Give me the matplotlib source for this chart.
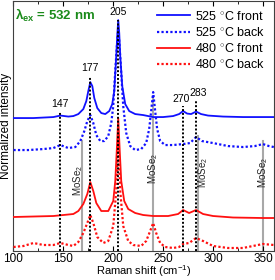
import numpy as np
import matplotlib
matplotlib.use("Agg")
import matplotlib.pyplot as plt

plt.rcParams['font.family'] = ['Liberation Sans', 'DejaVu Sans']
plt.rcParams['mathtext.fontset'] = 'custom'
plt.rcParams['mathtext.rm'] = 'Liberation Sans'
plt.rcParams['mathtext.it'] = 'Liberation Sans:italic'
plt.rcParams['mathtext.bf'] = 'Liberation Sans:bold'

# spectra (offset, normalized intensity, arbitrary units)
x_525_front = [100, 120, 140, 147, 155, 160, 165, 170, 173, 175, 177, 179, 181, 184, 188, 192, 196,
               199, 201, 203, 204, 205, 206, 207, 209, 212, 216, 222, 230, 240, 250, 260, 266,
               270, 274, 278, 283, 288, 295, 310, 330, 361]
y_525_front = [133, 133, 134, 135.5, 134.5, 135, 137, 142, 150, 160, 169, 165, 153, 143, 138, 137, 140,
               147, 160, 195, 215, 231, 218, 195, 165, 147, 140, 137, 136, 134, 134, 135, 137,
               140, 137.5, 137, 139.5, 137, 135.5, 134.5, 134, 134]

x_525_back = [100, 115, 130, 140, 147, 155, 162, 167, 171, 174, 177, 180, 183, 187, 191, 195, 198,
              200, 202, 204, 205, 206, 208, 210, 213, 217, 222, 228, 233, 236, 238, 240, 242,
              244, 247, 252, 260, 270, 277, 283, 289, 300, 315, 330, 342, 350, 356, 361]
y_525_back = [101, 101, 102, 103, 106, 103, 104, 110, 120, 130, 136, 128, 116, 110, 110, 115, 128,
              145, 180, 210, 221, 210, 178, 145, 118, 105, 101, 102, 108, 122, 140, 159, 140,
              122, 110, 106, 106, 107, 108, 114, 110, 108, 105, 104, 105, 107, 105, 104]

x_480_front = [100, 120, 140, 150, 160, 165, 170, 174, 177, 180, 183, 188, 195, 200, 202, 203.5,
               205, 206.5, 208, 211, 215, 222, 230, 240, 255, 265, 270, 276, 283, 290, 300, 320,
               350, 361]
y_480_front = [34, 34.5, 35, 36, 37, 40, 47, 57, 69, 60, 48, 40, 40, 50, 70, 100,
               133, 100, 70, 50, 42, 38, 36, 35, 35, 37, 41, 38, 41, 37, 35, 33.5,
               33, 33]

x_480_back = [100, 110, 120, 130, 140, 147, 155, 160, 165, 170, 174, 177, 180, 184, 190, 195, 200,
              203, 205, 207, 210, 215, 220, 228, 233, 237, 240, 243, 247, 252, 260, 266, 270,
              276, 283, 290, 300, 315, 330, 340, 350, 361]
y_480_back = [4, 5, 8, 6, 6, 8, 6, 5, 9, 18, 28, 36, 28, 14, 8, 10, 25,
              60, 110, 60, 25, 10, 6, 5, 10, 20, 28, 18, 8, 4, 3, 4, 7,
              8, 13, 10, 5, 3, 3, 5, 7, 6]

# assigned peaks: position, label x, label height, line top
peak_pos = [147, 177, 205, 270, 283]
peak_label_x = [147, 177, 205, 268, 285]
peak_label_y = [147, 183, 239, 152, 158]
peak_line_top = [139, 175, 231, 145, 150]

# MoSe2 reference lines
mose2_pos = [169, 240, 285, 350]
mose2_line_top = [110, 153, 115, 110]
mose2_text_x = [165, 239.5, 290, 350]
mose2_text_y = [71, 83, 79, 79]

fig = plt.figure(figsize=(2.75, 2.8), dpi=100)
ax = fig.add_axes([0.049, 0.1036, 0.947, 0.8924])

for p, top in zip(mose2_pos, mose2_line_top):
    ax.plot([p, p], [0, top], color='#a8a8a8', lw=1.5, zorder=1)

dots = (0, (1, 1))
ax.plot(x_525_front, y_525_front, color='#1010ff', lw=1.3, label=r'525 $^{\circ}$C front', zorder=3)
ax.plot(x_525_back, y_525_back, color='#1010ff', lw=1.6, ls=dots, label=r'525 $^{\circ}$C back', zorder=3)
ax.plot(x_480_front, y_480_front, color='#ff1010', lw=1.3, label=r'480 $^{\circ}$C front', zorder=3)
ax.plot(x_480_back, y_480_back, color='#ff1010', lw=1.6, ls=dots, label=r'480 $^{\circ}$C back', zorder=3)

for p, lx, ly, top in zip(peak_pos, peak_label_x, peak_label_y, peak_line_top):
    ax.plot([p, p], [0, top], color='black', lw=1.4, ls=dots, zorder=4)
    ax.text(lx, ly, str(p), ha='center', va='center', fontsize=7.5)

for tx, ty in zip(mose2_text_x, mose2_text_y):
    ax.text(tx, ty, r'MoSe$_2$', rotation=90, ha='center', va='center', fontsize=7,
            color='#222222', zorder=5)

ax.text(102, 236, r'λ$_{\mathbf{ex}}$ = 532 nm', color='#1a8a1a', fontweight='bold',
        fontsize=9.5, ha='left', va='center')

ax.set_xlim(100, 361)
ax.set_ylim(0, 250)
ax.set_xticks([100, 150, 200, 250, 300, 350])
ax.set_xticks([125, 175, 225, 275, 325], minor=True)
ax.set_yticks([])
ax.tick_params(axis='x', which='both', direction='in', top=True, labelsize=8.5, pad=1.5)
ax.tick_params(axis='x', which='major', length=3.5)
ax.tick_params(axis='x', which='minor', length=2)
for s in ax.spines.values():
    s.set_color('#404040')

ax.set_xlabel(r'Raman shift (cm$^{-1}$)', fontsize=8, labelpad=-1)
ax.set_ylabel('Normalized intensity', fontsize=8.5, labelpad=1)

ax.legend(loc='upper right', frameon=False, fontsize=9, handlelength=2.6,
          labelspacing=0.25, borderaxespad=0.3, handletextpad=0.4)

fig.savefig('out.png', dpi=100)
